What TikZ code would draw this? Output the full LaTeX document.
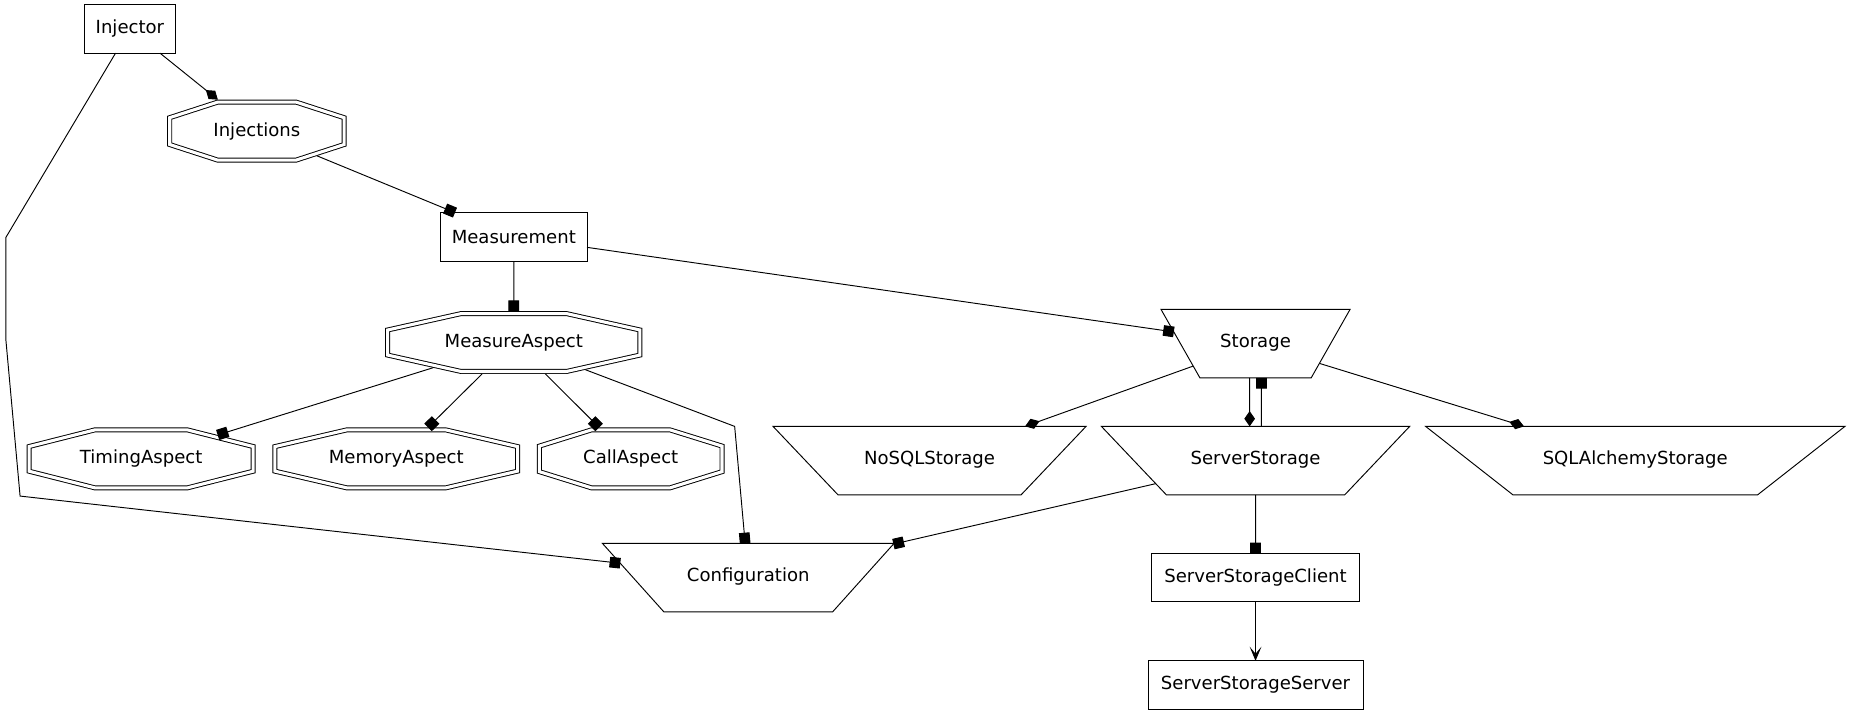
\documentclass[tikz,border=0pt]{standalone}
\usepackage{fontspec}
\setmainfont{DejaVu Sans}
\usepackage{tikz}
\usetikzlibrary{positioning, arrows.meta, shapes.geometric, shapes.misc}

\begin{document}
\begin{tikzpicture}[
    x=1pt, y=-1pt,
    line width=0.8pt,
    font=\fontsize{15.3}{18}\selectfont,
    on grid,
    every node/.style={inner sep=0pt, outer sep=0pt},
    cls/.style={draw, rectangle, minimum height=41pt},
    aspect/.style={draw, double, double distance=2.6pt, chamfered rectangle,
        minimum height=49pt, chamfered rectangle ysep=14pt, outer sep=2.1pt},
    store/.style={draw, trapezium, shape border rotate=180,
        trapezium stretches body, text height=11pt, text depth=4pt,
        inner ysep=21.5pt, inner xsep=0pt},
    comp/.style={-{Diamond[length=13pt, width=9pt]}},
    agg/.style={-{Square[length=9pt, width=9pt]}},
    uses/.style={-{Stealth[length=12pt, width=10pt, inset=6pt]}}
]
\useasboundingbox (0,0) rectangle (1568,605);

% 类节点
\node[cls, minimum width=77pt] (Injector) at (110,24.5) {Injector};
\node[aspect, minimum width=147.6pt, chamfered rectangle angle=72] (Injections) at (217.5,111) {Injections};
\node[cls, minimum width=124pt] (Measurement) at (435,200.5) {Measurement};
\node[aspect, minimum width=213.6pt, chamfered rectangle angle=77.4, below=89.5pt of Measurement] (MeasureAspect) {MeasureAspect};
\node[aspect, minimum width=189.6pt, chamfered rectangle angle=75.8] (TimingAspect) at (119.5,388.5) {TimingAspect};
\node[aspect, minimum width=205.6pt, chamfered rectangle angle=76.9, right=216pt of TimingAspect] (MemoryAspect) {MemoryAspect};
\node[aspect, minimum width=154.6pt, chamfered rectangle angle=72.7, right=198.5pt of MemoryAspect] (CallAspect) {CallAspect};

% 存储节点
\node[store, minimum width=247pt, trapezium angle=48.1] (Configuration) at (633.5,489) {Configuration};
\node[store, minimum width=160pt, trapezium angle=60.4] (Storage) at (1063,291) {Storage};
\node[store, minimum width=261pt, trapezium angle=46.5, below=99pt of Storage] (ServerStorage) {ServerStorage};
\node[store, minimum width=265pt, trapezium angle=46.5, left=276pt of ServerStorage] (NoSQLStorage) {NoSQLStorage};
\node[store, minimum width=355pt, trapezium angle=38.1, right=321.5pt of ServerStorage] (SQLAlchemyStorage) {SQLAlchemyStorage};
\node[cls, minimum width=176pt, below=99pt of ServerStorage] (ServerStorageClient) {ServerStorageClient};
\node[cls, minimum width=182pt, below=91pt of ServerStorageClient] (ServerStorageServer) {ServerStorageServer};

% 折点
\coordinate (bendA) at (5,201);
\coordinate (bendB) at (5,288);
\coordinate (bendC) at (17,420);
\coordinate (bendD) at (622,361);

% 连线
\draw[comp] (Injector) -- (Injections);
\draw[agg] (Injector) -- (bendA) -- (bendB) -- (bendC) -- (Configuration);
\draw[agg] (Injections) -- (Measurement);
\draw[agg] (Measurement) -- (MeasureAspect);
\draw[agg] (Measurement) -- (Storage);
\draw[agg] (MeasureAspect) -- (TimingAspect);
\draw[agg] (MeasureAspect) -- (MemoryAspect);
\draw[agg] (MeasureAspect) -- (CallAspect);
\draw[agg] (MeasureAspect) -- (bendD) -- (Configuration);
\draw[agg] (ServerStorage) -- (Configuration);
\draw[comp] (Storage) -- (NoSQLStorage);
\draw[comp] ([xshift=-5pt]Storage.south) -- ([xshift=-5pt]ServerStorage.north);
\draw[agg] ([xshift=5pt]ServerStorage.north) -- ([xshift=5pt]Storage.south);
\draw[comp] (Storage) -- (SQLAlchemyStorage);
\draw[agg] (ServerStorage) -- (ServerStorageClient);
\draw[uses] (ServerStorageClient) -- (ServerStorageServer);

\end{tikzpicture}
\end{document}
